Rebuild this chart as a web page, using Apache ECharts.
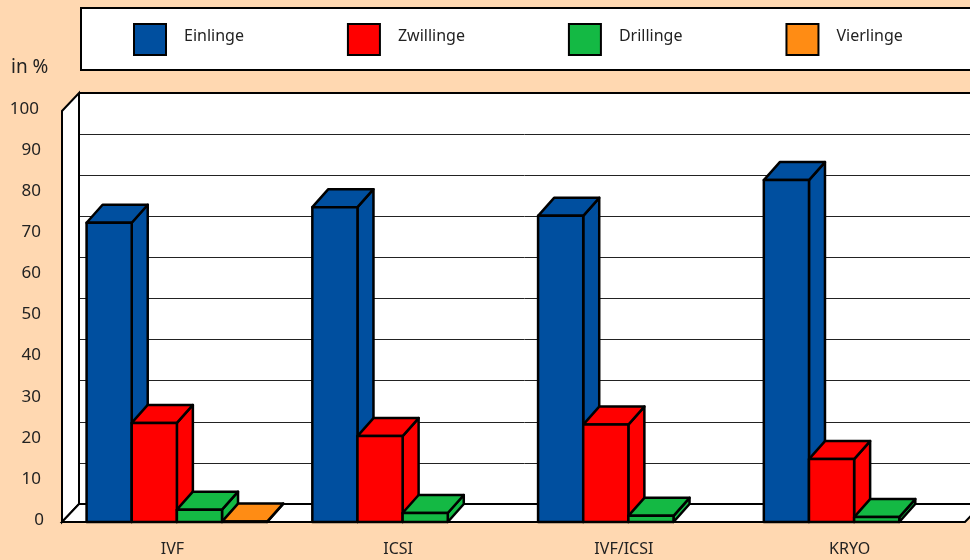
<!DOCTYPE html>
<html>
<head>
<meta charset="utf-8">
<script src="https://cdn.jsdelivr.net/npm/echarts@6/dist/echarts.min.js"></script>
<style>
html, body { margin: 0; padding: 0; background: #ffd8b1; }
#main { width: 970px; height: 560px; }
</style>
</head>
<body>
<div id="main"></div>
<script>
var categories = ['IVF', 'ICSI', 'IVF/ICSI', 'KRYO'];
var einlinge = [72.8, 76.6, 74.5, 83.2];
var zwillinge = [24.1, 20.9, 23.7, 15.3];
var drillinge = [3, 2.2, 1.5, 1.2];
var vierlinge = [0.1, 0, 0, 0];

var fontName = '"Noto Sans", sans-serif';
var depthX = 16;
var depthY = 18;
// the walls start a little left of the plot so the bars sit where they should
var wallInset = 2;

function bar3d(seriesIndex, color) {
    return function (params, api) {
        var value = api.value(1);
        if (!value) {
            return;
        }
        var center = api.coord([api.value(0), 0]);
        var top = api.coord([api.value(0), value]);
        var w = api.size([1, 0])[0] * 0.2;
        var x0 = center[0] - 2 * w + seriesIndex * w;
        var x1 = x0 + w;
        var y0 = center[1];
        var y1 = top[1];
        var line = { stroke: '#000', lineWidth: 2.5, lineJoin: 'round' };
        function face(points) {
            return {
                type: 'polygon',
                shape: { points: points },
                style: Object.assign({ fill: color }, line)
            };
        }
        return {
            type: 'group',
            children: [
                face([[x1, y0], [x1 + depthX, y0 - depthY], [x1 + depthX, y1 - depthY], [x1, y1]]),
                face([[x0, y1], [x0 + depthX, y1 - depthY], [x1 + depthX, y1 - depthY], [x1, y1]]),
                face([[x0, y0], [x1, y0], [x1, y1], [x0, y1]])
            ]
        };
    };
}

function walls(params) {
    var c = params.coordSys;
    var left = c.x - wallInset, right = c.x + c.width - wallInset, top = c.y, bottom = c.y + c.height;
    var backLeft = left + depthX + 1;
    var line = { fill: '#fff', stroke: '#000', lineWidth: 2 };
    return {
        type: 'group',
        children: [
            { type: 'polygon', shape: { points: [[left, bottom], [backLeft, bottom - depthY], [backLeft, top - depthY], [left, top]] }, style: line },
            { type: 'polygon', shape: { points: [[left, bottom], [right, bottom], [right + depthX + 1, bottom - depthY], [backLeft, bottom - depthY]] }, style: line },
            { type: 'line', shape: { x1: backLeft, y1: top - depthY, x2: right + depthX + 1, y2: top - depthY }, style: { stroke: '#000', lineWidth: 2 } }
        ]
    };
}

function makeSeries(name, values, index, color) {
    return {
        name: name,
        type: 'custom',
        xAxisIndex: 0,
        yAxisIndex: 0,
        z: 3,
        clip: false,
        itemStyle: { color: color },
        renderItem: bar3d(index, color),
        encode: { x: 0, y: 1 },
        data: values.map(function (v, i) { return [i, v]; })
    };
}

var myChart = echarts.init(document.getElementById('main'));

var option = {
    backgroundColor: '#ffd8b1',
    animation: false,
    title: {
        text: 'in %',
        left: 6,
        top: 53,
        textStyle: { fontFamily: fontName, fontSize: 19, fontWeight: 'normal', color: '#222' }
    },
    legend: {
        left: 81,
        top: 8,
        width: 860,
        orient: 'horizontal',
        padding: [15, 72, 14, 52],
        backgroundColor: '#fff',
        borderColor: '#000',
        borderWidth: 2,
        itemWidth: 32,
        itemHeight: 31,
        itemGap: 103,
        icon: 'rect',
        itemStyle: { borderColor: '#000', borderWidth: 2 },
        formatter: '{a|{name}}',
        textStyle: {
            rich: {
                a: { fontFamily: fontName, fontSize: 16, color: '#222', padding: [0, 0, 6, 13] }
            }
        },
        data: ['Einlinge', 'Zwillinge', 'Drillinge', 'Vierlinge']
    },
    grid: [
        { left: 64, top: 111, width: 903, height: 411 },
        { left: 79, top: 93, width: 903, height: 411, show: true, backgroundColor: '#fff', borderWidth: 0 }
    ],
    xAxis: [
        {
            type: 'category',
            gridIndex: 0,
            data: categories,
            axisLine: { show: false },
            axisTick: { show: false },
            axisLabel: { margin: 19, fontFamily: fontName, fontSize: 16, color: '#222', padding: [0, 9, 0, 0] }
        },
        {
            type: 'category',
            gridIndex: 1,
            data: categories,
            axisLine: { show: false },
            axisTick: { show: false },
            axisLabel: { show: false }
        }
    ],
    yAxis: [
        {
            type: 'value',
            gridIndex: 0,
            min: 0,
            max: 100,
            interval: 10,
            axisLine: { show: false },
            axisTick: { show: false },
            splitLine: { show: false },
            axisLabel: {
                margin: 20,
                formatter: function (value) {
                    if (value === 100) {
                        return '{wide|' + value + '}';
                    }
                    return value === 0 ? '{zero|0}' : '{mid|' + value + '}';
                },
                rich: {
                    wide: { padding: [0, 5, 4, 0], fontFamily: fontName, fontSize: 17, color: '#222' },
                    mid: { padding: [0, 3, 4, 0], fontFamily: fontName, fontSize: 17, color: '#222' },
                    zero: { padding: [0, 0, 4, 0], fontFamily: fontName, fontSize: 17, color: '#222' }
                }
            }
        },
        {
            type: 'value',
            gridIndex: 1,
            min: 0,
            max: 100,
            interval: 10,
            axisLine: { show: false },
            axisTick: { show: false },
            axisLabel: { show: false },
            splitLine: { show: true, lineStyle: { color: '#222', width: 1 } }
        }
    ],
    series: [
        {
            type: 'custom',
            xAxisIndex: 0,
            yAxisIndex: 0,
            z: 1,
            silent: true,
            clip: false,
            renderItem: walls,
            data: [[0, 0]]
        },
        makeSeries('Einlinge', einlinge, 0, '#004f9f'),
        makeSeries('Zwillinge', zwillinge, 1, '#ff0000'),
        makeSeries('Drillinge', drillinge, 2, '#14b944'),
        makeSeries('Vierlinge', vierlinge, 3, '#ff8c14')
    ]
};

myChart.setOption(option);
</script>
</body>
</html>
